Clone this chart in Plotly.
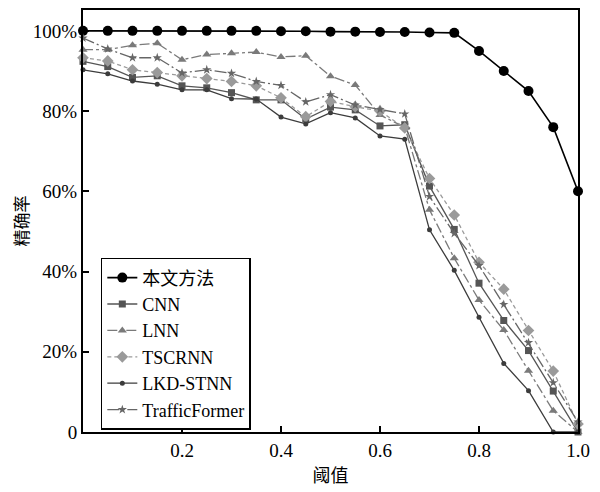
import plotly.graph_objects as go

thresholds = [0.0, 0.05, 0.10, 0.15, 0.20, 0.25, 0.30, 0.35, 0.40, 0.45, 0.50,
              0.55, 0.60, 0.65, 0.70, 0.75, 0.80, 0.85, 0.90, 0.95, 1.0]

ours = [100, 100, 100, 100, 100, 100, 100, 100, 99.9, 99.9, 99.8,
        99.8, 99.7, 99.7, 99.6, 99.5, 95.0, 90.0, 85.0, 76.0, 60.0]
cnn = [92.4, 91.1, 88.4, 88.8, 86.3, 85.8, 84.6, 82.8, 82.8, 78.0, 81.0,
       80.3, 76.3, 76.6, 61.3, 50.5, 37.1, 27.8, 20.3, 10.2, 0.0]
lnn = [95.3, 95.3, 96.4, 96.9, 92.8, 94.1, 94.4, 94.7, 93.5, 93.8, 88.7,
       86.5, 79.0, 76.0, 55.4, 43.3, 32.9, 25.4, 15.3, 5.3, 0.0]
tscrnn = [93.3, 92.5, 90.3, 89.6, 88.8, 88.1, 87.4, 86.3, 83.3, 78.6, 82.4,
          81.1, 80.0, 75.8, 63.2, 54.1, 42.3, 35.6, 25.3, 15.2, 2.0]
lkd = [90.3, 89.3, 87.5, 86.7, 85.3, 85.3, 83.1, 83.0, 78.5, 76.8, 79.6,
       78.3, 73.8, 73.0, 50.4, 40.3, 28.6, 17.1, 10.3, 0.0, 0.0]
trafficformer = [98.2, 95.5, 93.3, 93.3, 89.5, 90.3, 89.4, 87.4, 86.4, 82.3, 84.1,
                 81.5, 80.4, 79.3, 58.7, 49.5, 41.5, 31.8, 22.3, 12.3, 2.5]

series_names = ["本文方法", "CNN", "LNN", "TSCRNN", "LKD-STNN", "TrafficFormer"]

x_tick_vals = [0.2, 0.4, 0.6, 0.8, 1.0]
x_tick_text = ["0.2", "0.4", "0.6", "0.8", "1.0"]
y_tick_vals = [0, 20, 40, 60, 80, 100]
y_tick_text = ["0", "20%", "40%", "60%", "80%", "100%"]

x_title = "阈值"
y_title = "精确率"

styles = [
    dict(color="#000000", width=1.6, dash="solid", symbol="circle", size=10),
    dict(color="#555555", width=1.3, dash="solid", symbol="square", size=7),
    dict(color="#7a7a7a", width=1.3, dash="10px,3px,3px,3px", symbol="triangle-up", size=8),
    dict(color="#9a9a9a", width=1.3, dash="4px,3px", symbol="diamond", size=9),
    dict(color="#3c3c3c", width=1.3, dash="solid", symbol="circle", size=5),
    dict(color="#666666", width=1.3, dash="12px,3px,2px,3px", symbol="star", size=7),
]

data = [ours, cnn, lnn, tscrnn, lkd, trafficformer]

serif = "Liberation Serif, Noto Sans CJK SC, serif"

fig = go.Figure()
for name, ys, st in zip(series_names, data, styles):
    fig.add_trace(go.Scatter(
        x=thresholds, y=ys, name=name, mode="lines+markers",
        line=dict(color=st["color"], width=st["width"], dash=st["dash"]),
        marker=dict(symbol=st["symbol"], size=st["size"], color=st["color"],
                    line=dict(width=0)),
        cliponaxis=False,
    ))

# page body has an 8px default margin, so the figure is sized to fit the 600x492 window
fig.update_layout(
    width=592, height=484,
    margin=dict(l=75, r=22, t=2, b=60, autoexpand=False),
    paper_bgcolor="white", plot_bgcolor="white",
    font=dict(family=serif, size=19, color="#000000"),
    showlegend=True,
    legend=dict(
        x=0.036, y=0.005, xanchor="left", yanchor="bottom",
        bgcolor="white", bordercolor="#000000", borderwidth=1.5,
        font=dict(family=serif, size=18, color="#000000"),
        tracegroupgap=0,
    ),
)

fig.update_xaxes(
    range=[0, 1], showgrid=False, zeroline=False, automargin=False,
    showline=True, linecolor="#000000", linewidth=2, mirror=True,
    ticks="inside", ticklen=6, tickwidth=1.5, tickcolor="#000000",
    tickvals=x_tick_vals, ticktext=x_tick_text,
    tickfont=dict(family=serif, size=19),
    title=dict(text=x_title, font=dict(family="Noto Sans CJK SC", size=18), standoff=10),
)
fig.update_yaxes(
    range=[0, 105.2], showgrid=False, zeroline=False, automargin=False,
    showline=True, linecolor="#000000", linewidth=2, mirror=True,
    ticks="inside", ticklen=6, tickwidth=1.5, tickcolor="#000000",
    tickvals=y_tick_vals, ticktext=y_tick_text,
    tickfont=dict(family=serif, size=19),
    title=dict(text=y_title, font=dict(family="Noto Sans CJK SC", size=17), standoff=4),
)

fig.write_html("out.html")
